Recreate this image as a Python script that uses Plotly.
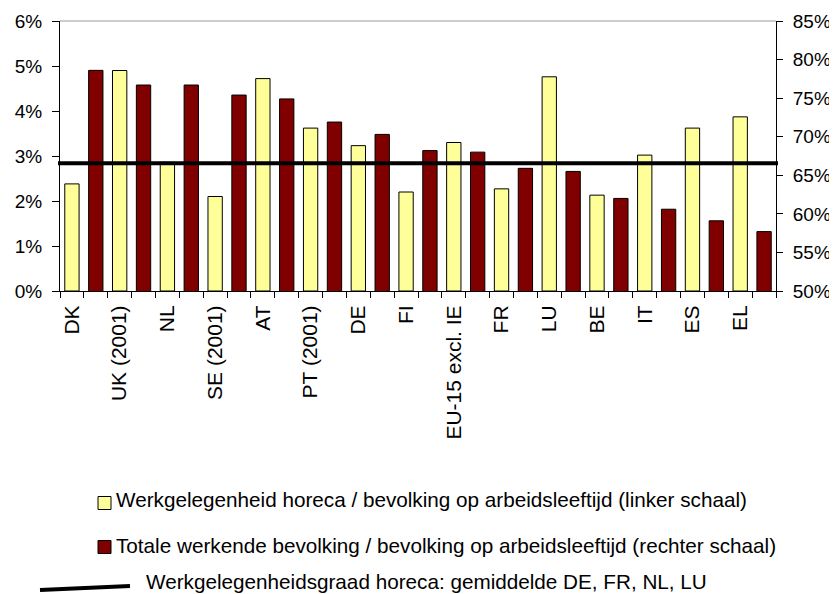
import plotly.graph_objects as go

countries = ["DK", "UK (2001)", "NL", "SE (2001)", "AT", "PT (2001)", "DE", "FI",
             "EU-15 excl. IE", "FR", "LU", "BE", "IT", "ES", "EL"]
horeca_share = [2.38, 4.90, 2.86, 2.10, 4.72, 3.62, 3.23, 2.20, 3.30, 2.27, 4.76, 2.13, 3.02, 3.62, 3.87]
total_rate = [78.6, 76.7, 76.7, 75.4, 74.9, 71.9, 70.3, 68.2, 68.0, 65.9, 65.5, 62.0, 60.6, 59.1, 57.7]
avg_horeca = 2.84

left_ticks = [0, 1, 2, 3, 4, 5, 6]
right_ticks = [50, 55, 60, 65, 70, 75, 80, 85]

legend_labels = [
    "Werkgelegenheid horeca / bevolking op arbeidsleeftijd (linker schaal)",
    "Totale werkende bevolking / bevolking op arbeidsleeftijd (rechter schaal)",
    "Werkgelegenheidsgraad horeca: gemiddelde DE, FR, NL, LU",
]

YELLOW = "#FFFF99"
RED = "#800000"
FONT = "Arial, Liberation Sans, sans-serif"

# the page body adds an 8px margin; size the figure so it fits the window
OFF = 8
W, H = 837 - OFF, 594 - OFF
ML, MT = 60 - OFF, 21 - OFF
MR = W - (776 - OFF)
MB = H - (291 - OFF)
PW, PH = W - ML - MR, H - MT - MB

def px(x):
    return (x - OFF - ML) / PW

def py(y):
    return (H - MB - (y - OFF)) / PH

n = len(countries)
x_yellow = [2 * i for i in range(n)]
x_red = [2 * i + 1 for i in range(n)]

fig = go.Figure()
fig.add_trace(go.Bar(
    x=x_yellow, y=[v / 100 for v in horeca_share], width=0.6,
    marker=dict(color=YELLOW, line=dict(color="black", width=1)),
    name=legend_labels[0], showlegend=False, xaxis="x", yaxis="y"))
fig.add_trace(go.Bar(
    x=x_red, y=[v / 100 for v in total_rate], width=0.6,
    marker=dict(color=RED, line=dict(color="black", width=1)),
    name=legend_labels[1], showlegend=False, xaxis="x", yaxis="y2"))

xr = [-0.5, 2 * n - 0.5]
fig.update_layout(
    width=W, height=H, margin=dict(l=ML, r=MR, t=MT, b=MB, autoexpand=False),
    paper_bgcolor="white", plot_bgcolor="white", barmode="overlay",
    font=dict(family=FONT, color="black", size=18),
    xaxis=dict(range=xr, tickvals=x_yellow, ticktext=countries, tickangle=-90,
               ticks="", tickfont=dict(size=21), ticklabelstandoff=5,
               minor=dict(tick0=-0.5, dtick=1, ticks="outside", ticklen=6,
                          tickcolor="black", showgrid=False),
               showline=True, linecolor="black", linewidth=1, showgrid=False, zeroline=False),
    yaxis=dict(range=[0, 0.06], tickvals=[t / 100 for t in left_ticks],
               ticktext=[f"{t}%" for t in left_ticks], ticks="outside", ticklen=7,
               tickcolor="black", showline=True, linecolor="black", linewidth=1,
               showgrid=False, zeroline=False, tickfont=dict(size=19), ticklabelstandoff=6),
    yaxis2=dict(range=[0.50, 0.85], tickvals=[t / 100 for t in right_ticks],
                ticktext=[f"{t}%" for t in right_ticks], overlaying="y", side="right",
                anchor="x", ticks="outside", ticklen=6, tickcolor="black",
                showline=True, linecolor="black", linewidth=1, showgrid=False,
                zeroline=False, tickfont=dict(size=19), ticklabelstandoff=6),
)

# top border of the plot area
fig.add_shape(type="line", xref="paper", yref="paper", x0=0, x1=1, y0=1, y1=1,
              line=dict(color="#999999", width=1))
# average horeca line
fig.add_shape(type="line", xref="paper", yref="y", x0=px(58), x1=px(778),
              y0=avg_horeca / 100, y1=avg_horeca / 100, line=dict(color="black", width=4))

# legend (manual)
for i, (color, yc) in enumerate([(YELLOW, 503), (RED, 547)]):
    fig.add_shape(type="rect", xref="paper", yref="paper",
                  x0=px(98), x1=px(111), y0=py(yc - 6.5), y1=py(yc + 6.5),
                  fillcolor=color, line=dict(color="black", width=1))
    fig.add_annotation(xref="paper", yref="paper", x=px(114), y=py(yc - 4 + 2 * i),
                       xanchor="left", yanchor="middle", showarrow=False,
                       text=legend_labels[i], font=dict(size=20.7, family=FONT))
fig.add_shape(type="line", xref="paper", yref="paper", x0=px(40), x1=px(130),
              y0=py(590), y1=py(586), line=dict(color="black", width=4))
fig.add_annotation(xref="paper", yref="paper", x=px(144), y=py(581),
                   xanchor="left", yanchor="middle", showarrow=False,
                   text=legend_labels[2], font=dict(size=20.7, family=FONT))

fig.write_html("out.html")
